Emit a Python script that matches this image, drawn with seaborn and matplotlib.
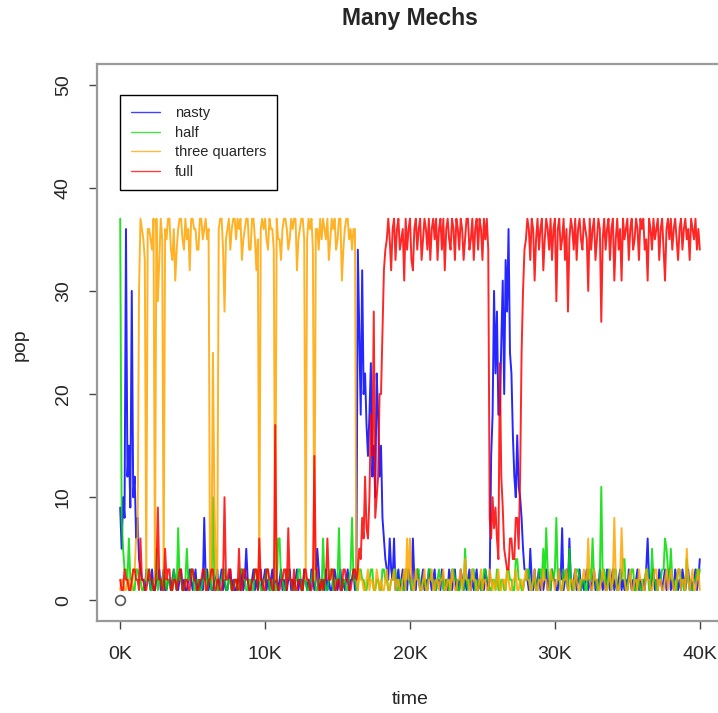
import numpy as np
import pandas as pd
import matplotlib
matplotlib.use("Agg")
import matplotlib.pyplot as plt
import seaborn as sns
from matplotlib.lines import Line2D

# population of each mechanism, sampled every 100 time steps (0 .. 40000)
# one row = 2000 time steps
time = np.arange(0, 40001, 100)

nasty = [
    9, 5, 10, 8, 36, 12, 15, 9, 30, 10, 12, 6, 8, 4, 3, 2, 2, 1, 3, 2,
    2, 1, 3, 1, 1, 2, 2, 3, 1, 2, 3, 1, 1, 2, 2, 1, 2, 3, 2, 1,
    1, 2, 3, 1, 2, 1, 1, 2, 3, 2, 1, 2, 3, 1, 2, 1, 2, 1, 8, 2,
    3, 1, 2, 1, 1, 2, 2, 3, 1, 2, 3, 1, 2, 1, 1, 2, 3, 1, 2, 1,
    1, 2, 2, 1, 3, 1, 2, 5, 2, 1, 1, 2, 3, 1, 2, 1, 2, 3, 1, 2,
    3, 1, 2, 1, 2, 3, 1, 2, 2, 1, 2, 3, 1, 2, 1, 1, 2, 3, 1, 2,
    1, 2, 3, 1, 2, 2, 1, 3, 2, 1, 2, 1, 3, 2, 1, 2, 5, 3, 1, 2,
    2, 1, 3, 1, 2, 1, 1, 2, 3, 2, 1, 2, 3, 1, 2, 1, 2, 3, 1, 2,
    2, 3, 1, 2, 34, 26, 18, 32, 20, 22, 17, 14, 18, 23, 12, 15, 10, 22, 18, 12,
    15, 8, 6, 4, 3, 2, 6, 3, 2, 6, 1, 2, 3, 1, 2, 3, 1, 2, 1, 3,
    2, 1, 6, 2, 1, 3, 2, 1, 2, 3, 1, 2, 1, 3, 2, 1, 2, 3, 1, 2,
    2, 1, 3, 2, 1, 2, 1, 3, 2, 1, 2, 3, 1, 2, 1, 3, 2, 1, 2, 1,
    2, 3, 1, 2, 1, 2, 3, 1, 2, 1, 2, 1, 3, 2, 1, 2, 14, 18, 30, 22,
    28, 18, 18, 25, 31, 20, 33, 28, 36, 24, 22, 16, 12, 10, 16, 11, 10, 8, 5, 3,
    3, 2, 1, 5, 2, 1, 3, 1, 2, 3, 1, 2, 1, 2, 3, 1, 2, 1, 3, 2,
    2, 1, 1, 3, 2, 7, 1, 2, 3, 1, 6, 2, 1, 2, 3, 1, 2, 3, 1, 2,
    1, 2, 3, 1, 2, 1, 2, 3, 1, 2, 1, 3, 2, 1, 2, 1, 3, 2, 1, 2,
    3, 1, 2, 1, 2, 3, 1, 2, 1, 2, 1, 3, 2, 1, 2, 1, 2, 3, 1, 2,
    1, 2, 1, 3, 6, 2, 1, 2, 3, 1, 2, 1, 3, 2, 1, 2, 3, 1, 2, 3,
    1, 2, 1, 3, 2, 1, 2, 1, 3, 2, 1, 2, 3, 1, 2, 1, 2, 3, 1, 2,
    4,
]

half = [
    37, 8, 5, 3, 3, 2, 6, 2, 2, 1, 1, 3, 3, 2, 2, 1, 1, 2, 2, 3,
    3, 1, 1, 2, 2, 5, 1, 2, 2, 1, 3, 2, 1, 2, 2, 1, 1, 3, 2, 1,
    7, 2, 2, 1, 1, 2, 5, 2, 2, 3, 3, 1, 1, 2, 2, 1, 1, 2, 2, 3,
    1, 2, 3, 1, 10, 2, 2, 1, 1, 2, 2, 3, 3, 1, 1, 2, 2, 1, 1, 2,
    2, 1, 1, 3, 3, 2, 2, 1, 1, 2, 2, 1, 1, 3, 3, 2, 2, 1, 1, 2,
    2, 3, 3, 1, 1, 2, 2, 1, 1, 6, 6, 2, 2, 1, 1, 3, 3, 2, 2, 1,
    1, 2, 2, 3, 3, 1, 1, 2, 2, 1, 1, 2, 2, 3, 3, 1, 1, 2, 2, 1,
    6, 2, 1, 1, 2, 3, 3, 1, 1, 2, 2, 7, 1, 1, 2, 2, 1, 1, 2, 3,
    8, 2, 2, 1, 1, 3, 3, 2, 2, 1, 1, 2, 2, 3, 3, 1, 1, 2, 2, 1,
    1, 3, 3, 2, 2, 1, 1, 2, 2, 3, 3, 1, 1, 2, 2, 1, 1, 3, 3, 2,
    2, 1, 1, 2, 2, 3, 3, 1, 1, 2, 2, 1, 1, 3, 3, 2, 2, 1, 1, 2,
    3, 2, 2, 1, 1, 2, 2, 1, 1, 3, 3, 2, 2, 1, 1, 2, 2, 1, 5, 2,
    1, 2, 2, 3, 3, 1, 1, 2, 2, 1, 1, 3, 3, 2, 2, 1, 1, 2, 2, 1,
    3, 1, 1, 2, 2, 1, 1, 3, 3, 2, 2, 1, 1, 4, 4, 2, 2, 1, 1, 2,
    2, 3, 3, 1, 1, 2, 2, 1, 1, 3, 3, 2, 5, 2, 7, 3, 2, 1, 3, 2,
    3, 8, 2, 2, 1, 1, 3, 2, 2, 1, 5, 2, 1, 1, 2, 3, 3, 2, 1, 2,
    2, 1, 1, 3, 3, 2, 6, 2, 2, 1, 1, 2, 11, 2, 3, 2, 1, 3, 2, 1,
    2, 3, 3, 1, 1, 2, 2, 4, 4, 1, 1, 2, 2, 3, 3, 1, 1, 2, 2, 1,
    1, 2, 2, 3, 3, 1, 1, 5, 2, 2, 1, 1, 2, 2, 3, 3, 6, 5, 3, 2,
    5, 2, 2, 1, 1, 3, 3, 2, 2, 1, 1, 4, 2, 2, 1, 1, 2, 2, 3, 2,
    3,
]

three_quarters = [
    1, 2, 2, 1, 1, 2, 2, 1, 1, 3, 3, 6, 6, 30, 37, 36, 35, 33, 2, 36,
    36, 35, 34, 37, 2, 37, 29, 33, 37, 35, 2, 36, 35, 37, 37, 34, 33, 36, 31, 34,
    36, 37, 37, 35, 34, 37, 35, 36, 32, 37, 37, 36, 36, 34, 34, 37, 37, 35, 36, 37,
    35, 36, 2, 3, 24, 10, 3, 2, 36, 37, 37, 34, 28, 35, 36, 37, 34, 36, 37, 37,
    35, 37, 36, 37, 33, 35, 36, 37, 37, 34, 34, 37, 37, 35, 32, 35, 2, 36, 37, 36,
    37, 35, 34, 37, 36, 36, 34, 2, 37, 35, 35, 33, 36, 37, 37, 36, 34, 35, 37, 36,
    37, 37, 32, 35, 36, 37, 37, 35, 2, 35, 37, 36, 37, 34, 2, 36, 36, 34, 37, 35,
    37, 36, 35, 37, 33, 35, 37, 36, 37, 34, 35, 37, 37, 31, 34, 36, 37, 37, 35, 36,
    34, 36, 36, 2, 1, 3, 2, 2, 1, 1, 2, 3, 1, 2, 2, 1, 1, 3, 2, 1,
    2, 1, 1, 2, 3, 1, 1, 2, 2, 3, 1, 2, 2, 1, 1, 2, 3, 1, 6, 2,
    6, 2, 1, 1, 3, 2, 2, 1, 1, 2, 3, 1, 1, 2, 2, 3, 1, 1, 2, 2,
    1, 2, 2, 3, 1, 1, 2, 2, 1, 3, 2, 1, 1, 2, 2, 3, 1, 2, 4, 2,
    2, 1, 1, 3, 2, 2, 1, 1, 2, 3, 1, 2, 2, 1, 1, 3, 2, 1, 2, 1,
    2, 3, 1, 1, 2, 2, 1, 3, 2, 1, 1, 2, 2, 3, 1, 1, 2, 2, 1, 2,
    3, 2, 2, 1, 1, 2, 3, 1, 1, 2, 2, 1, 3, 2, 2, 1, 1, 3, 2, 2,
    1, 2, 2, 3, 1, 1, 2, 2, 3, 1, 1, 2, 2, 1, 3, 2, 1, 1, 2, 2,
    3, 2, 2, 6, 2, 1, 1, 3, 2, 2, 1, 1, 2, 3, 2, 1, 1, 2, 3, 1,
    2, 8, 2, 1, 1, 2, 7, 3, 2, 1, 1, 2, 3, 1, 1, 2, 2, 1, 3, 2,
    2, 1, 1, 3, 2, 2, 1, 1, 2, 3, 3, 1, 2, 2, 1, 1, 2, 3, 1, 2,
    3, 2, 1, 1, 2, 3, 3, 1, 2, 2, 1, 5, 2, 1, 2, 3, 1, 1, 2, 3,
    1,
]

full = [
    2, 1, 1, 3, 2, 2, 1, 1, 2, 3, 3, 2, 2, 1, 6, 2, 2, 1, 1, 2,
    3, 2, 2, 1, 1, 3, 9, 2, 2, 1, 1, 5, 2, 3, 3, 1, 1, 2, 2, 1,
    2, 3, 3, 1, 1, 2, 2, 1, 1, 3, 3, 2, 2, 1, 1, 2, 2, 3, 3, 1,
    1, 2, 2, 3, 3, 1, 1, 2, 2, 1, 1, 2, 10, 2, 2, 3, 3, 1, 1, 2,
    2, 1, 5, 1, 1, 3, 3, 2, 2, 1, 1, 2, 2, 3, 3, 1, 6, 2, 2, 1,
    1, 3, 3, 2, 2, 1, 1, 17, 2, 1, 1, 2, 2, 3, 3, 1, 7, 2, 2, 1,
    3, 1, 1, 2, 2, 1, 1, 3, 3, 2, 2, 1, 1, 2, 14, 3, 3, 1, 1, 2,
    1, 2, 2, 6, 2, 2, 3, 3, 1, 1, 2, 2, 1, 1, 3, 3, 2, 2, 1, 1,
    2, 3, 3, 2, 3, 5, 4, 8, 6, 12, 7, 6, 10, 18, 14, 28, 8, 10, 12, 20,
    20, 26, 32, 34, 35, 37, 35, 32, 36, 37, 33, 36, 37, 34, 35, 36, 31, 37, 34, 36,
    37, 33, 32, 36, 37, 34, 36, 37, 33, 35, 37, 36, 34, 37, 33, 36, 37, 35, 37, 33,
    36, 37, 34, 37, 32, 36, 37, 35, 34, 37, 36, 33, 37, 36, 34, 37, 36, 33, 35, 37,
    37, 34, 35, 37, 33, 36, 37, 34, 37, 36, 33, 37, 35, 37, 34, 8, 6, 10, 7, 9,
    6, 4, 23, 12, 9, 5, 4, 3, 3, 6, 6, 4, 4, 8, 8, 5, 12, 24, 30, 34,
    35, 37, 36, 33, 37, 36, 31, 35, 37, 34, 36, 37, 32, 35, 37, 36, 34, 37, 33, 36,
    37, 29, 36, 37, 34, 35, 37, 33, 36, 28, 35, 37, 36, 34, 37, 33, 36, 37, 35, 34,
    37, 36, 35, 30, 37, 34, 36, 37, 33, 35, 37, 36, 27, 35, 37, 34, 36, 37, 33, 36,
    37, 31, 35, 37, 34, 36, 31, 37, 35, 36, 37, 33, 36, 37, 34, 35, 37, 36, 33, 37,
    36, 37, 34, 35, 31, 37, 36, 34, 37, 35, 36, 37, 33, 36, 37, 34, 31, 36, 37, 35,
    37, 34, 36, 37, 35, 33, 36, 37, 34, 36, 37, 35, 36, 33, 37, 36, 35, 37, 34, 36,
    34,
]

mechs = ["nasty", "half", "three quarters", "full"]
colors = {"nasty": "#0000ff", "half": "#00dd00",
          "three quarters": "#ffa500", "full": "#ff0000"}
xticks = [0, 10000, 20000, 30000, 40000]
xtick_labels = ["0K", "10K", "20K", "30K", "40K"]
yticks = [0, 10, 20, 30, 40, 50]

df = pd.DataFrame({
    "time": np.tile(time, 4),
    "pop": nasty + half + three_quarters + full,
    "mech": np.repeat(mechs, len(time)),
})

sns.set_style("ticks")
plt.rcParams["font.family"] = ["Liberation Sans", "DejaVu Sans"]

fig = plt.figure(figsize=(7.18, 7.13), dpi=100)
ax = fig.add_axes([97 / 718, 92 / 713, 626 / 718, 557 / 713])

sns.lineplot(data=df, x="time", y="pop", hue="mech", hue_order=mechs,
             palette=colors, estimator=None, sort=False, lw=1.4, alpha=0.85,
             legend=False, ax=ax)
ax.plot(0, 0, "o", mfc="none", mec="#555555", ms=7, mew=1.2)

ax.set_xlim(-1600, 41600)
ax.set_ylim(-2, 52)
ax.set_xticks(xticks)
ax.set_xticklabels(xtick_labels)
ax.set_yticks(yticks)
ax.set_yticklabels([str(v) for v in yticks], rotation=90, va="center")
ax.tick_params(direction="out", length=6, width=1, color="#444444",
               labelsize=14, pad=12)
ax.set_xlabel("")
ax.set_ylabel("")
for side in ["left", "top", "bottom", "right"]:
    ax.spines[side].set_color("#999999")
    ax.spines[side].set_linewidth(1.6)

handles = [Line2D([], [], color=colors[m], lw=1, alpha=0.75) for m in mechs]
ax.legend(handles, mechs, loc="upper left", bbox_to_anchor=(0.0367, 0.944),
          borderaxespad=0, fontsize=10.5, frameon=True, fancybox=False,
          edgecolor="black", framealpha=1, handlelength=2.0,
          handletextpad=1.0, labelspacing=0.38, borderpad=0.75)
ax.get_legend().get_frame().set_linewidth(1)

fig.text(410 / 718, 1 - 18 / 713, "Many Mechs", ha="center", va="center",
         fontsize=16.5, fontweight="bold")
fig.text(410 / 718, 1 - 700 / 713, "time", ha="center", va="center",
         fontsize=14)
fig.text(20 / 718, 1 - 345 / 713, "pop", ha="center", va="center",
         fontsize=14, rotation=90)

fig.savefig("out.png", dpi=100)
